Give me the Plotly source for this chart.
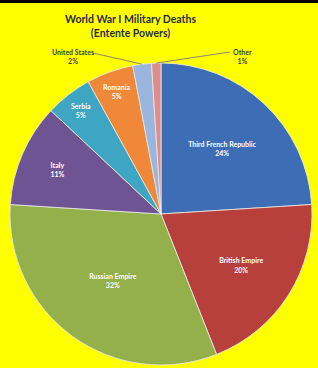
import math
import plotly.graph_objects as go

# ---- data ----
countries = ["Third French Republic", "British Empire", "Russian Empire", "Italy",
             "Serbia", "Romania", "United States", "Other"]
shares = [24, 20, 32, 11, 5, 5, 2, 1]
colors = ["#3D6DB4", "#B8403C", "#93B04B", "#6F5494", "#3EA5C3", "#F0883A", "#9BB6DE", "#DE8C8C"]
title_lines = ["World War I Military Deaths", "(Entente Powers)"]
outside_labels = ["United States", "Other"]

W, H = 318, 368
# pie domain (pixels)
cx, cy, r = 161, 214, 151
dom_x = [(cx - r) / W, (cx + r) / W]
dom_y = [(H - cy - r) / H, (H - cy + r) / H]

texts = []
positions = []
for c, s in zip(countries, shares):
    if c in outside_labels:
        texts.append("")
        positions.append("none")
    else:
        texts.append(f"{c}<br>{s}%")
        positions.append("inside")

fig = go.Figure(go.Pie(
    labels=countries,
    values=shares,
    text=texts,
    textinfo="text",
    textposition=positions,
    insidetextorientation="horizontal",
    sort=False,
    direction="clockwise",
    rotation=0,
    marker=dict(colors=colors, line=dict(color="rgba(235,235,235,0.8)", width=1)),
    textfont=dict(family="Lato", size=7, color="white", weight="bold"),
    domain=dict(x=dom_x, y=dom_y),
    hoverinfo="label+percent",
    showlegend=False,
))

# leader lines + outside labels
total = sum(shares)
cum = 0
mids = {}
for c, s in zip(countries, shares):
    mids[c] = (cum + s / 2) / total
    cum += s

label_pos = {"United States": (73, 56, 93, 53), "Other": (242, 56, 230, 52)}
shapes = [dict(type="rect", xref="paper", yref="paper", x0=0, x1=1, y0=1 - 3 / H, y1=1,
               fillcolor="black", line=dict(width=0), layer="above")]
annotations = []
for c in outside_labels:
    s = shares[countries.index(c)]
    ang = mids[c] * 2 * math.pi
    tx = cx + r * math.sin(ang)
    ty = cy - r * math.cos(ang)
    lx, ly, sx, sy = label_pos[c]
    shapes.append(dict(type="line", xref="paper", yref="paper",
                       x0=sx / W, y0=1 - sy / H, x1=tx / W, y1=1 - ty / H,
                       line=dict(color="#8a8a6a", width=1)))
    annotations.append(dict(text=f"{c}<br>{s}%", x=lx / W, y=1 - ly / H, xref="paper", yref="paper",
                            showarrow=False, xanchor="center", yanchor="middle",
                            font=dict(family="Lato", size=7, color="#404040", weight="bold")))

annotations.append(dict(text="<br>".join(title_lines), x=130 / W, y=1 - 11 / H, xref="paper", yref="paper",
                        showarrow=False, xanchor="center", yanchor="top", align="center",
                        font=dict(family="Lato", size=10.5, color="#2a2a40", weight="bold")))

fig.update_layout(
    width=W, height=H,
    margin=dict(l=0, r=0, t=0, b=0),
    paper_bgcolor="#FFFF00",
    plot_bgcolor="#FFFF00",
    shapes=shapes,
    annotations=annotations,
)

fig.write_html(
    "out.html",
    config={"displayModeBar": False},
    post_script="document.body.style.margin='0';document.body.style.padding='0';"
                "document.body.style.background='#FFFF00';document.body.style.overflow='hidden';",
)
